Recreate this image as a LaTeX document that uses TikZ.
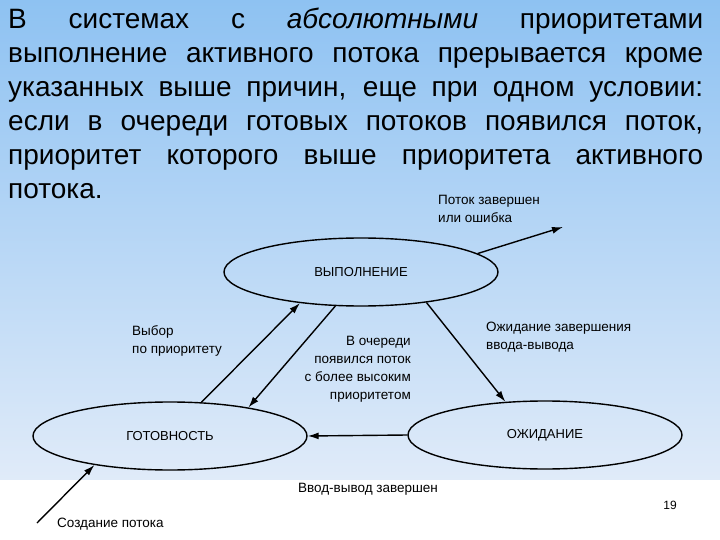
\documentclass[tikz,border=0pt]{standalone}
\usepackage{fontspec}
\setmainfont{Liberation Sans}
\usepackage{tikz}
\usetikzlibrary{arrows.meta, shapes.geometric}
\definecolor{bgtop}{RGB}{142,194,242}
\definecolor{bgbot}{RGB}{224,235,249}

\begin{document}
\begin{tikzpicture}[x=1pt, y=-1pt,
  state/.style={draw, line width=1.4pt, ellipse, minimum width=274pt, minimum height=68pt, inner sep=0pt, font=\fontsize{13}{15}\selectfont},
  lbl/.style={inner sep=0pt, font=\fontsize{13.5}{18}\selectfont},
  arr/.style={line width=1.4pt, -{Latex[length=11pt,width=7pt]}}]
\useasboundingbox (0,0) rectangle (720,540);
\fill[top color=bgtop, bottom color=bgbot] (0,0) rectangle (720,480);
\fill[white] (0,480) rectangle (720,540);
\node[anchor=north west, inner sep=0pt, text width=695pt, align=justify, font=\fontsize{28}{34}\selectfont] (txt) at (8,8)
  {\tolerance=10000 \hbadness=10000 \hyphenpenalty=10000
   В системах с \textit{абсолютными} приоритетами\linebreak
   выполнение активного потока прерывается кроме\linebreak
   указанных выше причин, еще при одном условии:\linebreak
   если в очереди готовых потоков появился поток,\linebreak
   приоритет которого выше приоритета активного\linebreak
   потока.};
\node[state] (vyp) at (361,272) {ВЫПОЛНЕНИЕ};
\node[state] (got) at (170,436) {ГОТОВНОСТЬ};
\node[state] (ozh) at (545,435) {ОЖИДАНИЕ};
\coordinate (fin) at (563,227);
\coordinate (new) at (37,523);
\draw[arr] (vyp.9) -- (fin);
\draw[arr] (got.47) -- (vyp.207);
\draw[arr] (vyp.233) -- (got.20);
\draw[arr] (vyp.335) -- (ozh.140);
\draw[arr] (ozh.west) -- (got.east);
\draw[arr] (new) -- (got.201);
\node[lbl, anchor=north west, align=left] (finlbl) at (438,195) {Поток завершен\\или ошибка};
\node[lbl, anchor=north west, align=left] (sel) at (132,325) {Выбор\\по приоритету};
\node[lbl, anchor=north east, align=right] (pre) at (411,336) {В очереди\\появился поток\\с более высоким\\приоритетом};
\node[lbl, anchor=north west, align=left] (wait) at (486,322) {Ожидание завершения\\ввода-вывода};
\node[lbl, anchor=base] (iodone) at (368,492) {Ввод-вывод завершен};
\node[lbl, anchor=base west] (newlbl) at (57,527) {Создание потока};
\node[anchor=base, inner sep=0pt, font=\fontsize{12}{14}\selectfont] (num) at (670,509) {19};
\end{tikzpicture}
\end{document}
